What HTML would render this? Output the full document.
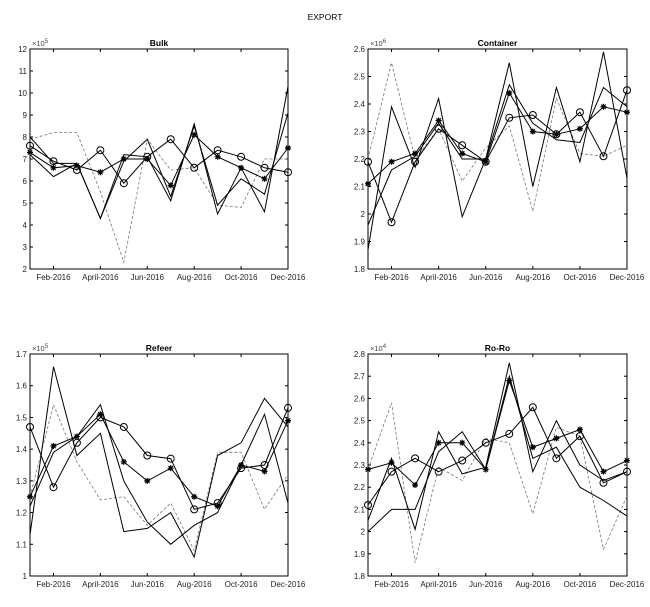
<!DOCTYPE html>
<html><head><meta charset="utf-8"><style>
body{margin:0;background:#fff;}
svg{display:block;font-family:"Liberation Sans",sans-serif;}
</style></head><body>
<svg id="c" width="650" height="607">
<text x="325" y="20" font-size="8.5" text-anchor="middle">EXPORT</text>
</svg>
<script>
const months = ["Jan-2016","Feb-2016","Mar-2016","April-2016","May-2016","Jun-2016","Jul-2016","Aug-2016","Sep-2016","Oct-2016","Nov-2016","Dec-2016"];
const panelTitles = ["Bulk","Container","Refeer","Ro-Ro"];
const exponents = ["5","6","5","4"];
const bulkTicks = ["2","3","4","5","6","7","8","9","10","11","12"];
const containerTicks = ["1.8","1.9","2","2.1","2.2","2.3","2.4","2.5","2.6"];
const refeerTicks = ["1","1.1","1.2","1.3","1.4","1.5","1.6","1.7"];
const roroTicks = ["1.8","1.9","2","2.1","2.2","2.3","2.4","2.5","2.6","2.7","2.8"];
const bulkDashed = [7.9,8.2,8.2,5.5,2.3,7.9,6.5,6.6,4.9,4.8,7.0,7.0];
const bulkCircle = [7.6,6.9,6.5,7.4,5.9,7.1,7.9,6.6,7.4,7.1,6.6,6.4];
const bulkStar = [7.3,6.6,6.7,6.4,7.0,7.0,5.8,8.1,7.1,6.6,6.1,7.5];
const bulkSolidA = [8.0,6.8,6.8,4.3,7.2,7.1,5.1,8.6,4.5,6.6,4.6,10.3];
const bulkSolidB = [7.2,6.2,6.8,4.3,6.9,7.9,5.3,8.5,4.9,6.1,5.4,9.1];
const contDashed = [2.2,2.55,2.2,2.31,2.12,2.24,2.32,2.01,2.42,2.22,2.21,2.25];
const contCircle = [2.19,1.97,2.19,2.31,2.25,2.19,2.35,2.36,2.29,2.37,2.21,2.45];
const contStar = [2.11,2.19,2.22,2.34,2.22,2.19,2.44,2.30,2.29,2.31,2.39,2.37];
const contSolidA = [1.87,2.39,2.17,2.42,1.99,2.20,2.55,2.10,2.46,2.19,2.59,2.13];
const contSolidB = [1.96,2.16,2.21,2.33,2.20,2.20,2.47,2.33,2.27,2.26,2.46,2.39];
const refDashed = [1.25,1.54,1.36,1.24,1.25,1.16,1.23,1.08,1.39,1.39,1.21,1.32];
const refCircle = [1.47,1.28,1.42,1.50,1.47,1.38,1.37,1.21,1.23,1.34,1.35,1.53];
const refStar = [1.25,1.41,1.44,1.51,1.36,1.30,1.34,1.25,1.22,1.35,1.33,1.49];
const refSolidA = [1.13,1.66,1.38,1.45,1.14,1.15,1.20,1.06,1.38,1.42,1.56,1.47];
const refSolidB = [1.22,1.39,1.44,1.54,1.30,1.17,1.10,1.16,1.20,1.35,1.51,1.23];
const roDashed = [2.28,2.58,1.86,2.29,2.23,2.42,2.40,2.08,2.47,2.43,1.92,2.16];
const roCircle = [2.12,2.27,2.33,2.27,2.32,2.40,2.44,2.56,2.33,2.43,2.22,2.27];
const roStar = [2.28,2.31,2.21,2.40,2.40,2.28,2.68,2.38,2.42,2.46,2.27,2.32];
const roSolidA = [2.05,2.33,2.01,2.45,2.26,2.29,2.76,2.27,2.50,2.30,2.23,2.27];
const roSolidB = [2.00,2.10,2.10,2.36,2.45,2.28,2.70,2.33,2.38,2.20,2.14,2.07];

const NS="http://www.w3.org/2000/svg";
const svg=document.getElementById('c');
function mk(tag,attrs,parent){const e=document.createElementNS(NS,tag);for(const k in attrs)e.setAttribute(k,attrs[k]);(parent||svg).appendChild(e);return e;}

const boxes=[{l:30,r:288,t:49,b:269},{l:368,r:627,t:49,b:269},{l:30,r:288,t:354,b:576},{l:368,r:627,t:354,b:576}];
const tickSets=[bulkTicks,containerTicks,refeerTicks,roroTicks];
const seriesSets=[
 [bulkDashed,bulkSolidA,bulkSolidB,bulkCircle,bulkStar],
 [contDashed,contSolidA,contSolidB,contCircle,contStar],
 [refDashed,refSolidA,refSolidB,refCircle,refStar],
 [roDashed,roSolidA,roSolidB,roCircle,roStar]];
const seriesNames=["dashed-series","solid-series-a","solid-series-b","circle-series","star-series"];

boxes.forEach((bx,pi)=>{
  const g=mk('g',{});
  
  
  const ticks=tickSets[pi].map(Number);
  const ymin=ticks[0], ymax=ticks[ticks.length-1];
  const xs=i=>bx.l+(bx.r-bx.l)*i/(months.length-1);
  const ys=v=>bx.b-(bx.b-bx.t)*(v-ymin)/(ymax-ymin);
  const frame=mk('rect',{x:bx.l,y:bx.t,width:bx.r-bx.l,height:bx.b-bx.t,fill:'none',stroke:'#000','stroke-width':1},g);
  
  
  const tt=mk('text',{x:(bx.l+bx.r)/2,y:bx.t-3,'font-size':8.5,'text-anchor':'middle','font-weight':'bold'},g);
  tt.textContent=panelTitles[pi];
  
  
  const ex=mk('text',{x:bx.l+2,y:bx.t-3,'font-size':7.5,fill:'#444'},g);
  ex.textContent='×10';
  
  
  const es=mk('tspan',{dy:-3,'font-size':6},ex); es.textContent=exponents[pi];
  tickSets[pi].forEach((lab,k)=>{
    const y=ys(ticks[k]);
    mk('line',{x1:bx.l,x2:bx.l+3,y1:y,y2:y,stroke:'#000'},g);
    mk('line',{x1:bx.r,x2:bx.r-3,y1:y,y2:y,stroke:'#000'},g);
    const t=mk('text',{x:bx.l-3,y:y+3,'font-size':8,'text-anchor':'end',fill:'#222'},g);
    t.textContent=lab;
    
    
  });
  months.forEach((m,i)=>{
    if(i%2!==1)return;
    const x=xs(i);
    mk('line',{x1:x,x2:x,y1:bx.b,y2:bx.b-3,stroke:'#000'},g);
    mk('line',{x1:x,x2:x,y1:bx.t,y2:bx.t+3,stroke:'#000'},g);
    const t=mk('text',{x:x,y:bx.b+11,'font-size':8,'text-anchor':'middle',fill:'#222'},g);
    t.textContent=m;
    
    
  });
  seriesSets[pi].forEach((arr,si)=>{
    const pts=arr.map((v,i)=>xs(i).toFixed(1)+','+ys(v).toFixed(1)).join(' ');
    const attrs={points:pts,fill:'none',stroke:si===0?'#777':'#000','stroke-width':si===0?0.8:1};
    if(si===0)attrs['stroke-dasharray']='3,2';
    const pl=mk('polyline',attrs,g);
    
    
    if(si===3){arr.forEach((v,i)=>{const c=mk('circle',{cx:xs(i),cy:ys(v),r:3.5,fill:'none',stroke:'#000'},g);
      
      });}
    if(si===4){arr.forEach((v,i)=>{const x=xs(i),y=ys(v);
      const s=mk('path',{d:`M${x-3},${y}h6M${x},${y-3}v6M${x-2.2},${y-2.2}l4.4,4.4M${x-2.2},${y+2.2}l4.4,-4.4`,stroke:'#000','stroke-width':1.2},g);
      
      });}
  });
});
</script>
</body></html>
